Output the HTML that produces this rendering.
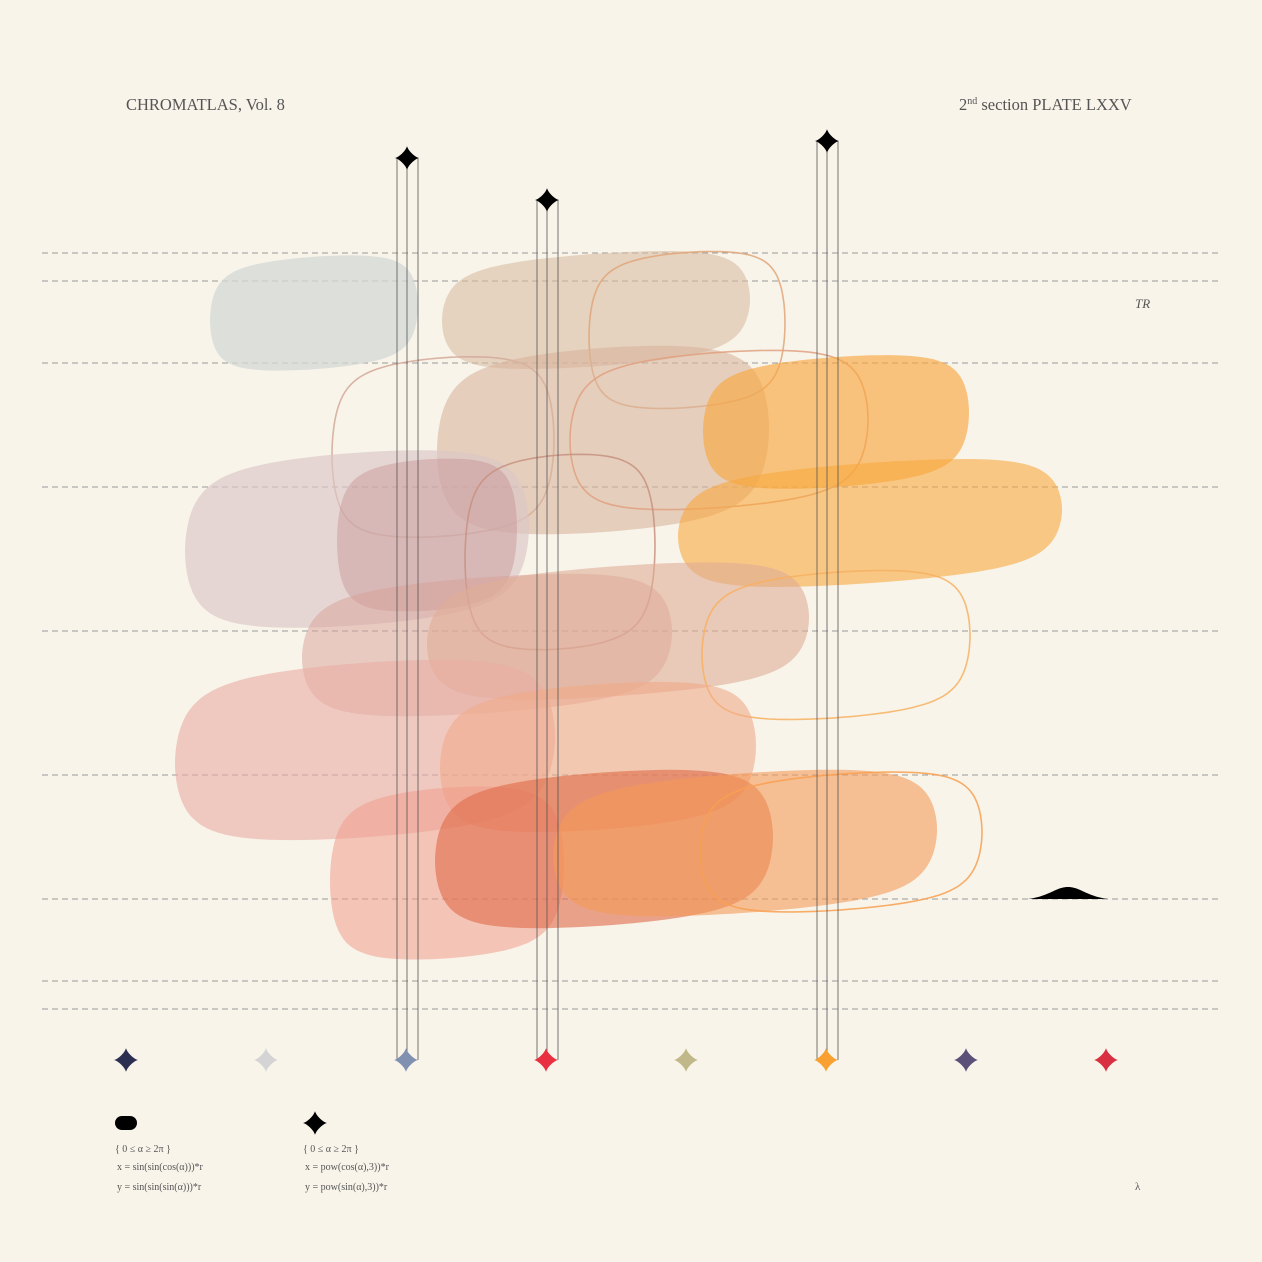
<!DOCTYPE html>
<html><head><meta charset="utf-8"><style>
body{margin:0;background:#f8f4ea;}
svg{display:block}
text{font-family:"Liberation Serif",serif;fill:#555}
</style></head><body>
<svg id="c" width="1262" height="1262" viewBox="0 0 1262 1262">
<rect width="1262" height="1262" fill="#f8f4ea"/>
<text x="126" y="110" font-size="16.5">CHROMATLAS, Vol. 8</text>
<text x="959" y="110" font-size="16.5">2<tspan font-size="10" dy="-6">nd</tspan><tspan dy="6"> section  PLATE LXXV</tspan></text>
<text x="1135" y="308" font-size="13" font-style="italic">TR</text>
<text x="1135" y="1190" font-size="11">λ</text>
<g id="dash"></g>
<g id="blobs"></g>
<g id="vlines"></g>
<g id="stars"></g>
<path d="M1028,899 C1050,896 1056,887 1068,887 C1080,887 1086,896 1108,899 Z" fill="#000"/>
<rect x="115" y="1116" width="22" height="14" rx="7" fill="#000"/>
<text x="115" y="1152" font-size="10">{ 0 ≤ α ≥ 2π }</text>
<text x="117" y="1170" font-size="10">x = sin(sin(cos(α)))*r</text>
<text x="117" y="1190" font-size="10">y = sin(sin(sin(α)))*r</text>
<g id="legstar"></g>
<text x="303" y="1152" font-size="10">{ 0 ≤ α ≥ 2π }</text>
<text x="305" y="1170" font-size="10">x = pow(cos(α),3))*r</text>
<text x="305" y="1190" font-size="10">y = pow(sin(α),3))*r</text>
</svg>
<script>
const gridYs=[253,281,363,487,631,775,899,981,1009];
const blobCx=[314,596,687,443,603,719,836,870,357,427,560,487,618,836,365,598,447,604,745,841];
const blobCy=[313,310,330,447,440,430,422,523,539,535,552,645,631,645,750,757,873,849,843,842];
const blobW=[104,154,98,111,166,149,133,192,172,90,95,185,191,134,190,158,117,169,192,141];
const blobH=[58,58,80,92,95,80,67,62,89,78,100,70,67,75,90,75,88,79,72,70];
const blobColor=['#d4d8d4','#d8bca2','#e0a478','#d4a898','#d8b49c','#e0a080','#f8a840','#f8a840','#dcc6c6','#c08c8c','#c89080','#d8a098','#e0ac94','#f8b060','#eaaca4','#f0aa88','#f09c8c','#e06a48','#f59a58','#f8a050'];
const blobOpacity=[0.75,0.6,1,1,0.6,1,0.65,0.6,0.65,0.4,1,0.5,0.6,1,0.6,0.6,0.55,0.6,0.6,1];
const blobOutline=[0,0,1,1,0,1,0,0,0,0,1,0,0,1,0,0,0,0,0,1];
const lineXs=[407,547,827];
const lineTops=[158,200,141];
const starXs=[126,266,406,546,686,826,966,1106];
const starColors=['#2b3050','#d4d4d4','#8090b0','#e83040','#c0b888','#f8a030','#5a5078','#d83040'];
const NS='http://www.w3.org/2000/svg';
function mk(t,p,a){const e=document.createElementNS(NS,t);for(const k in a)e.setAttribute(k,a[k]);p.appendChild(e);return e;}
const dash=document.getElementById('dash');
gridYs.forEach(y=>{const l=mk('line',dash,{x1:42,x2:1220,y1:y,y2:y,stroke:'#9a9a9a','stroke-width':1,'stroke-dasharray':'6 4'});

});
const k=Math.sin(Math.sin(1));
function blobPath(cx,cy,w,h){let d='';for(let i=0;i<=120;i++){const a=i/120*2*Math.PI;
let x=Math.sin(Math.sin(Math.cos(a)))/k, y=Math.sin(Math.sin(Math.sin(a)))/k;
const sx=Math.sign(x)*Math.pow(Math.abs(x),1.05), sy=Math.sign(y)*Math.pow(Math.abs(y),1.05);
let px=sx*w, py=sy*h*0.97 - sx*w*0.07;
d+=(i?'L':'M')+(cx+px).toFixed(1)+','+(cy+py).toFixed(1);}return d+'Z';}
const bg=document.getElementById('blobs');
blobCx.forEach((cx,i)=>{const p=mk('path',bg,{d:blobPath(cx,blobCy[i],blobW[i],blobH[i])});
if(blobOutline[i]){p.setAttribute('fill','none');p.setAttribute('stroke',blobColor[i]);p.setAttribute('stroke-width',1.6);p.setAttribute('opacity',0.85);}
else{p.setAttribute('fill',blobColor[i]);p.setAttribute('opacity',blobOpacity[i]);}

});
function star(g,cx,cy,r,col){let d='';for(let i=0;i<=80;i++){const a=i/80*2*Math.PI;const c=Math.cos(a),s=Math.sin(a);
d+=(i?'L':'M')+(cx+Math.sign(c)*Math.pow(Math.abs(c),2.7)*r).toFixed(2)+','+(cy+Math.sign(s)*Math.pow(Math.abs(s),2.7)*r).toFixed(2);}
return mk('path',g,{d:d+'Z',fill:col});}
const vg=document.getElementById('vlines');
lineXs.forEach((x,i)=>{[-10,0,11].forEach(o=>{const l=mk('line',vg,{x1:x+o,x2:x+o,y1:lineTops[i],y2:1060,stroke:'#555','stroke-width':0.8});

});
const s=star(vg,x,lineTops[i],12,'#000');

});
const sg=document.getElementById('stars');
starXs.forEach((x,i)=>{const s=star(sg,x,1060,12,starColors[i]);

});
const ls=star(document.getElementById('legstar'),315,1123,12,'#000');


</script>
</body></html>
